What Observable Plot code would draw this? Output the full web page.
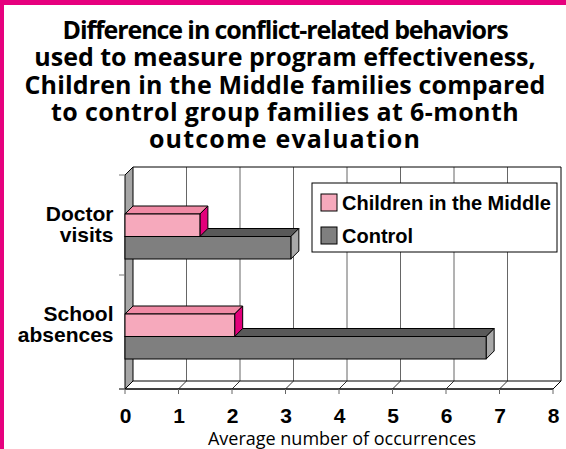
<!DOCTYPE html>
<html>
<head>
<meta charset="utf-8">
<script src="https://cdn.jsdelivr.net/npm/d3@7"></script>
<script src="https://cdn.jsdelivr.net/npm/@observablehq/plot@0.6"></script>
<style>
  html, body { margin: 0; padding: 0; background: #fff; }
  #wrap { position: relative; width: 566px; height: 449px; overflow: hidden; background: #fff; }
  #btop { position: absolute; left: 0; top: 0; width: 566px; height: 5px; background: #E6007E; }
  #bleft { position: absolute; left: 0; top: 0; width: 4px; height: 449px; background: #E6007E; }
  #title { position: absolute; left: 4px; top: 16px; width: 562px; text-align: center;
           font-family: "Open Sans", sans-serif; font-weight: 700; font-size: 25px; line-height: 27.3px; color: #000; }
  #title span { display: block; white-space: nowrap; }
  #chart { position: absolute; left: 0; top: 158px; }
</style>
</head>
<body>
<div id="wrap">
  <div id="btop"></div>
  <div id="bleft"></div>
  <div id="title"><span style="letter-spacing:-1.1px">Difference in conflict-related behaviors</span><span>used to measure program effectiveness,</span><span style="letter-spacing:0.15px">Children in the Middle families compared</span><span style="letter-spacing:0.4px">to control group families at 6-month</span><span style="letter-spacing:1.2px">outcome evaluation</span></div>
  <div id="chart"></div>
</div>
<script>
// ---- data ----
const categories = ["Doctor visits", "School absences"];
const categoryLabels = ["Doctor\nvisits", "School\nabsences"];
const seriesNames = ["Children in the Middle", "Control"];
const childrenInTheMiddle = [1.4, 2.05];
const control = [3.1, 6.75];
const xTicks = [0, 1, 2, 3, 4, 5, 6, 7, 8];
const axisTitle = "Average number of occurrences";

// ---- styles ----
const palette = {
  "Children in the Middle": {front: "#F6A9BC", top: "#F08AA5", side: "#E2007B"},
  "Control": {front: "#7F7F7F", top: "#595959", side: "#A9A9A9"}
};
const D = 8; // 3D depth in px
const barSlot = 0.225;
const barStart = 0.39;
const fontBold = "'Liberation Sans', Arial, sans-serif";

const barData = categories.flatMap((c, i) => [
  {category: c, series: seriesNames[1], value: control[i], slot: 1},
  {category: c, series: seriesNames[0], value: childrenInTheMiddle[i], slot: 0}
]);

function frame3d(index, scales, values, dim) {
  const x = scales.x, y = scales.y;
  const top = dim.marginTop, bottom = dim.height - dim.marginBottom;
  const x0 = x(xTicks[0]), xN = x(xTicks[xTicks.length - 1]);
  const g = d3.create("svg:g").attr("fill", "none");
  g.append("rect").attr("x", x0 + D).attr("y", top - D).attr("width", xN - x0).attr("height", bottom - top)
    .attr("fill", "#fff");
  for (const t of xTicks.slice(1, -1)) {
    g.append("line").attr("x1", x(t) + D).attr("x2", x(t) + D).attr("y1", top - D).attr("y2", bottom - D)
      .attr("stroke", "#666");
  }
  g.append("path").attr("d", `M${x0 + D},${top - D}H${xN + D}V${bottom - D}`).attr("stroke", "#000");
  g.append("path").attr("d", `M${x0},${bottom}H${xN}L${xN + D},${bottom - D}H${x0 + D}Z`)
    .attr("fill", "#fff").attr("stroke", "#000");
  for (const t of xTicks.slice(1, -1)) {
    g.append("line").attr("x1", x(t)).attr("x2", x(t) + D).attr("y1", bottom).attr("y2", bottom - D)
      .attr("stroke", "#333");
  }
  g.append("path").attr("d", `M${x0},${top}L${x0 + D},${top - D}V${bottom - D}L${x0},${bottom}Z`)
    .attr("fill", "#A6A6A6").attr("stroke", "#000");
  g.append("line").attr("x1", x0 - 6).attr("x2", xN).attr("y1", bottom).attr("y2", bottom).attr("stroke", "#000");
  for (const t of xTicks) {
    g.append("line").attr("x1", x(t)).attr("x2", x(t)).attr("y1", bottom).attr("y2", bottom + 5).attr("stroke", "#666");
  }
  const yt = [top, ...categories.slice(1).map(c => y(c)), bottom];
  for (const v of yt) {
    g.append("line").attr("x1", x0 - 6).attr("x2", x0).attr("y1", v).attr("y2", v).attr("stroke", "#777");
  }
  return g.node();
}

function bars3d(index, scales, values, dim) {
  const x = scales.x, y = scales.y;
  const bw = y.bandwidth();
  const g = d3.create("svg:g").attr("stroke", "#000").attr("stroke-width", 1);
  for (const b of barData) {
    const y0 = y(b.category) + bw * (barStart + b.slot * barSlot);
    const h = bw * barSlot;
    const x0 = x(0), x1 = x(b.value);
    const c = palette[b.series];
    g.append("path").attr("d", `M${x0},${y0}L${x1},${y0}L${x1 + D},${y0 - D}L${x0 + D},${y0 - D}Z`).attr("fill", c.top);
    g.append("path").attr("d", `M${x1},${y0}L${x1 + D},${y0 - D}L${x1 + D},${y0 + h - D}L${x1},${y0 + h}Z`).attr("fill", c.side);
    g.append("rect").attr("x", x0).attr("y", y0).attr("width", x1 - x0).attr("height", h).attr("fill", c.front);
  }
  return g.node();
}

function legend(index, scales, values, dim) {
  const x = scales.x;
  const top = dim.marginTop;
  const bw = 245, bh = 69;
  const right = x(xTicks[xTicks.length - 1]) + 4;
  const left = right - bw, boxTop = top + 8;
  const g = d3.create("svg:g");
  g.append("rect").attr("x", left).attr("y", boxTop).attr("width", bw).attr("height", bh)
    .attr("fill", "#fff").attr("stroke", "#000");
  seriesNames.forEach((s, i) => {
    const sy = boxTop + 11 + i * 33;
    g.append("rect").attr("x", left + 9).attr("y", sy).attr("width", 16).attr("height", 17)
      .attr("fill", palette[s].front).attr("stroke", "#000");
    g.append("text").attr("x", left + 30).attr("y", sy + 8.5).attr("dy", "0.36em")
      .attr("text-anchor", "start")
      .attr("font-family", fontBold).attr("font-weight", "bold")
      .attr("font-size", 20).attr("fill", "#000").text(s);
  });
  return g.node();
}

const chart = Plot.plot({
  width: 566,
  height: 291,
  marginLeft: 125,
  marginRight: 13,
  marginTop: 17,
  marginBottom: 60,
  style: {background: "transparent", overflow: "visible"},
  x: {domain: [0, 8], axis: null},
  y: {type: "band", domain: categories, paddingInner: 0, paddingOuter: 0.06, align: 0, axis: null},
  marks: [
    frame3d,
    bars3d,
    legend,
    Plot.text(xTicks, {x: d => d, frameAnchor: "bottom", lineAnchor: "top", dy: 19,
      text: d => String(d), fontSize: 21, fontWeight: "bold", fontFamily: fontBold, fill: "#000"}),
    Plot.text(categories, {y: d => d, frameAnchor: "left", textAnchor: "end", dx: -12, dy: -1,
      text: (d, i) => categoryLabels[i], lineHeight: 1, fontSize: 21, fontWeight: "bold", fontFamily: fontBold, fill: "#000"}),
    Plot.text([axisTitle], {frameAnchor: "bottom", lineAnchor: "top", dy: 42.5, dx: 2.5,
      text: d => d, fontSize: 18, fontFamily: "'Open Sans', sans-serif", fill: "#000"})
  ]
});
document.getElementById("chart").appendChild(chart);
</script>
</body>
</html>
